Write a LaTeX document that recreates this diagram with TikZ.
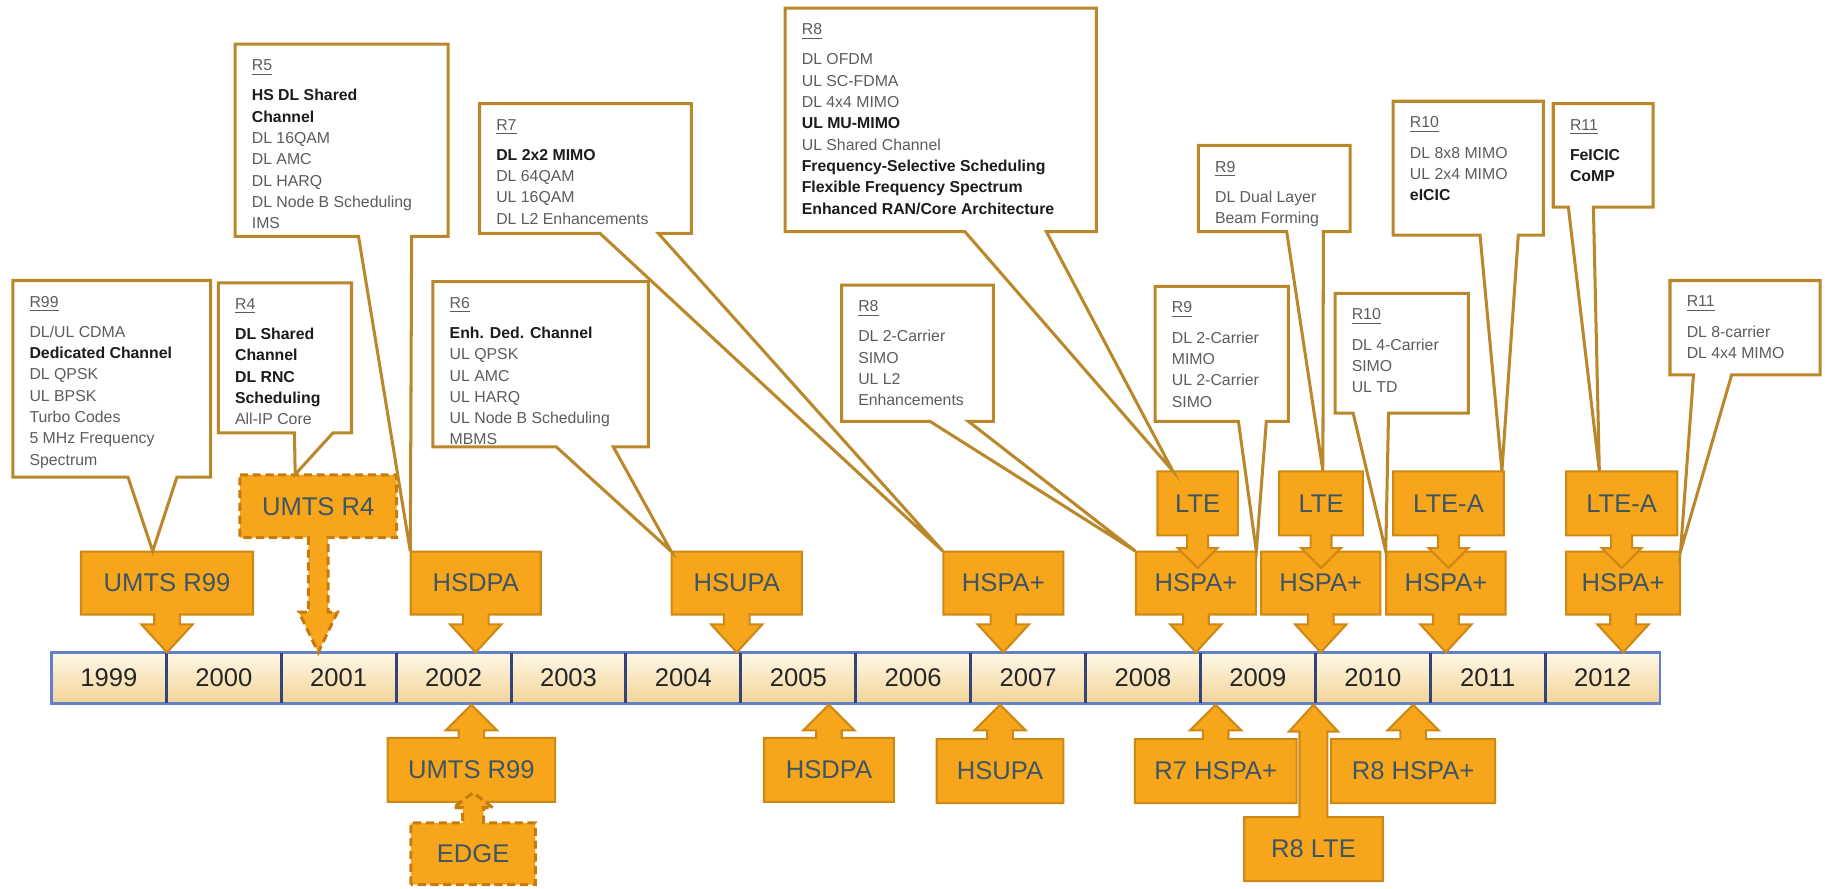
\documentclass[tikz,border=0pt]{standalone}
\usepackage{fontspec}
\setmainfont{Liberation Sans}

\definecolor{orfill}{RGB}{247,165,27}
\definecolor{ordraw}{RGB}{206,136,22}
\definecolor{ordash}{RGB}{196,124,14}
\definecolor{ortext}{RGB}{62,86,100}
\definecolor{cobrd}{RGB}{186,136,42}
\definecolor{cgrey}{RGB}{92,92,92}
\definecolor{cbold}{RGB}{28,28,28}
\definecolor{barblue}{RGB}{98,128,200}
\definecolor{barsep}{RGB}{52,68,118}
\definecolor{celltop}{RGB}{255,249,232}
\definecolor{cellbot}{RGB}{242,210,150}

% callout text helpers
\newcommand\tlhead[1]{\underline{#1}\\[3.8pt]}
\newcommand\tlb[1]{\textcolor{cbold}{\bfseries #1}}

% arrow geometry: stem half width, head half width, head length
\newcommand\arrowdims[3]{\def\tlSH{#1}\def\tlHH{#2}\def\tlHL{#3}}

% box with an arrow pointing down: style, name, x1, x2, y1, y2, tip y, label
\newcommand\downbox[8]{%
  \pgfmathsetmacro\tlcx{(#3+#4)/2}%
  \pgfmathsetmacro\tlhy{#7-\tlHL}%
  \draw[#1] (#3,#5) -- (#4,#5) -- (#4,#6) -- (\tlcx+\tlSH,#6) -- (\tlcx+\tlSH,\tlhy)
    -- (\tlcx+\tlHH,\tlhy) -- (\tlcx,#7) -- (\tlcx-\tlHH,\tlhy) -- (\tlcx-\tlSH,\tlhy)
    -- (\tlcx-\tlSH,#6) -- (#3,#6) -- cycle;
  \node[olabel, minimum width={(#4-#3)*0.5pt}, minimum height={(#6-#5)*0.5pt}]
    (#2) at (\tlcx,{(#5+#6)/2}) {#8};
}
% box with an arrow pointing up
\newcommand\upbox[8]{%
  \pgfmathsetmacro\tlcx{(#3+#4)/2}%
  \pgfmathsetmacro\tlhy{#7+\tlHL}%
  \draw[#1] (#3,#6) -- (#3,#5) -- (\tlcx-\tlSH,#5) -- (\tlcx-\tlSH,\tlhy)
    -- (\tlcx-\tlHH,\tlhy) -- (\tlcx,#7) -- (\tlcx+\tlHH,\tlhy) -- (\tlcx+\tlSH,\tlhy)
    -- (\tlcx+\tlSH,#5) -- (#4,#5) -- (#4,#6) -- cycle;
  \node[olabel, minimum width={(#4-#3)*0.5pt}, minimum height={(#6-#5)*0.5pt}]
    (#2) at (\tlcx,{(#5+#6)/2}) {#8};
}
% release note callout: name, x1, y1, x2, y2, pointer base left, base right, tip, text
\newcommand\callout[9]{%
  \draw[callout] (#2,#3) -- (#4,#3) -- (#4,#5) -- (#7,#5) -- #8 -- (#6,#5) -- (#2,#5) -- cycle;
  \node[ctext] (#1) at ({#2+14},{#3+13}) {#9};
}

\begin{document}
\begin{tikzpicture}[x=0.5pt,y=-0.5pt,line join=miter,
  obox/.style={fill=orfill, draw=ordraw, line width=0.9pt},
  odash/.style={fill=orfill, draw=ordash, line width=1.3pt, dash pattern=on 3.5pt off 2pt},
  olabel/.style={inner sep=0pt, text=ortext, font=\fontsize{11}{13}\selectfont},
  callout/.style={fill=white, draw=cobrd, line width=1.3pt},
  ctext/.style={anchor=north west, align=left, inner sep=0pt, text=cgrey,
    font=\fontsize{6.8}{9.15}\selectfont},
  yeartext/.style={text=black!85, font=\fontsize{11}{13}\selectfont}]

\useasboundingbox (0,0) rectangle (1568,763);

% ---------- year bar ----------
\foreach \yr [count=\i from 0] in {1999,2000,2001,2002,2003,2004,2005,2006,2007,2008,2009,2010,2011,2012}{
  \pgfmathsetmacro\tlxa{44.2+\i*98.72}
  \shade[top color=celltop, bottom color=cellbot] (\tlxa,560.5) rectangle ++(98.72,44);
  \node[yeartext] (y\yr) at (\tlxa+49.36,582.5) {\yr};
}
\draw[barblue, line width=1pt] (44.2,560.5) rectangle (1426.3,604.5);
\foreach \i in {1,...,13}{
  \pgfmathsetmacro\tlxa{44.2+\i*98.72}
  \draw[barsep, line width=1.3pt] (\tlxa,561) -- (\tlxa,604);
}

% ---------- technologies above the bar ----------
\arrowdims{11}{22}{24}
\downbox{obox}{umtsT}{69.6}{217.4}{474}{528}{560.5}{UMTS R99}
\downbox{obox}{hsdpaT}{352.9}{464.6}{474}{528}{560.5}{HSDPA}
\downbox{obox}{hsupaT}{577}{689}{474}{528}{560.5}{HSUPA}
\downbox{obox}{hspaA}{810.5}{913.6}{474}{528}{560.5}{HSPA+}
\downbox{obox}{hspaB}{976}{1079}{474}{528}{560.5}{HSPA+}
\downbox{obox}{hspaC}{1083.5}{1186}{474}{528}{560.5}{HSPA+}
\downbox{obox}{hspaD}{1191}{1293.6}{474}{528}{560.5}{HSPA+}
\downbox{obox}{hspaE}{1345.5}{1443.5}{474}{528}{560.5}{HSPA+}

\arrowdims{9}{17}{17}
\downbox{obox}{lteA}{994.5}{1063.5}{405}{460}{488}{LTE}
\downbox{obox}{lteB}{1099}{1171}{405}{460}{488}{LTE}
\downbox{obox}{lteaA}{1197}{1292}{405}{460}{488}{LTE-A}
\downbox{obox}{lteaB}{1345.5}{1441}{405}{460}{488}{LTE-A}

\arrowdims{8.5}{16.5}{34.5}
\downbox{odash}{umtsR4}{206}{340.8}{408}{462}{560.5}{UMTS R4}

% ---------- technologies below the bar ----------
\arrowdims{11}{22}{22}
\upbox{obox}{umtsB}{333}{477}{634}{689}{605.5}{UMTS R99}
\upbox{obox}{hsdpaB}{656.4}{768}{634}{689}{605.5}{HSDPA}
\upbox{obox}{hsupaB}{804.8}{913.6}{635}{690}{605.5}{HSUPA}
\upbox{obox}{r7B}{975}{1114}{635}{690}{605.5}{R7 HSPA+}
\upbox{obox}{r8hB}{1143.6}{1284.6}{635}{690}{605.5}{R8 HSPA+}
\arrowdims{12}{21}{23}
\upbox{obox}{r8lB}{1069}{1188}{702}{757}{605.5}{R8 LTE}
\arrowdims{9}{17}{13}
\upbox{odash}{edgeB}{353}{460}{707}{760}{681}{EDGE}

% ---------- release callouts ----------
\callout{c99}{11}{241}{181}{410}{110}{152}{([xshift=31pt]umtsT.north west)}
  {\tlhead{R99}DL/UL CDMA\\\tlb{Dedicated Channel}\\DL QPSK\\UL BPSK\\Turbo Codes\\5 MHz Frequency\\Spectrum}
\callout{c4}{187.6}{243}{302}{372}{253}{286}{([xshift=24pt]umtsR4.north west)}
  {\tlhead{R4}\tlb{DL Shared}\\\tlb{Channel}\\\tlb{DL RNC}\\\tlb{Scheduling}\\All-IP Core}
\callout{c5}{202}{38}{385}{203}{308}{353.7}{(hsdpaT.north west)}
  {\tlhead{R5}\tlb{HS DL Shared}\\\tlb{Channel}\\DL 16QAM\\DL AMC\\DL HARQ\\DL Node B Scheduling\\IMS}
\callout{c6}{372}{242}{557}{384}{478}{527}{(hsupaT.north west)}
  {\tlhead{R6}\tlb{Enh. Ded. Channel}\\UL QPSK\\UL AMC\\UL HARQ\\UL Node B Scheduling\\MBMS}
\callout{c7}{412}{89}{594}{200.5}{515.5}{565.6}{(hspaA.north west)}
  {\tlhead{R7}\tlb{DL 2x2 MIMO}\\DL 64QAM\\UL 16QAM\\DL L2 Enhancements}
\callout{c8a}{674.5}{7}{942}{199}{829}{899}{([xshift=6.75pt]lteA.north west)}
  {\tlhead{R8}DL OFDM\\UL SC-FDMA\\DL 4x4 MIMO\\\tlb{UL MU-MIMO}\\UL Shared Channel\\\tlb{Frequency-Selective Scheduling}\\\tlb{Flexible Frequency Spectrum}\\\tlb{Enhanced RAN/Core Architecture}}
\callout{c8b}{723}{245}{853.5}{362}{799}{832}{(hspaB.north west)}
  {\tlhead{R8}DL 2-Carrier\\SIMO\\UL L2\\Enhancements}
\callout{c9a}{992.4}{246}{1107}{362}{1064}{1088}{(hspaB.north east)}
  {\tlhead{R9}DL 2-Carrier\\MIMO\\UL 2-Carrier\\SIMO}
\callout{c9b}{1029.6}{125}{1160}{199}{1105.5}{1137}{([xshift=19pt]lteB.north west)}
  {\tlhead{R9}DL Dual Layer\\Beam Forming}
\callout{c10a}{1147}{252}{1261.5}{355}{1162.6}{1193}{(hspaD.north west)}
  {\tlhead{R10}DL 4-Carrier\\SIMO\\UL TD}
\callout{c10b}{1197}{87}{1326}{202}{1271.6}{1304.5}{([xshift=-1pt]lteaA.north east)}
  {\tlhead{R10}DL 8x8 MIMO\\UL 2x4 MIMO\\\tlb{eICIC}}
\callout{c11a}{1334.5}{89}{1420.4}{178}{1347.5}{1369}{([xshift=14.5pt]lteaB.north west)}
  {\tlhead{R11}\tlb{FeICIC}\\\tlb{CoMP}}
\callout{c11b}{1434.8}{241}{1563.7}{322}{1455}{1487.8}{(hspaE.north east)}
  {\tlhead{R11}DL 8-carrier\\DL 4x4 MIMO}

\end{tikzpicture}
\end{document}
